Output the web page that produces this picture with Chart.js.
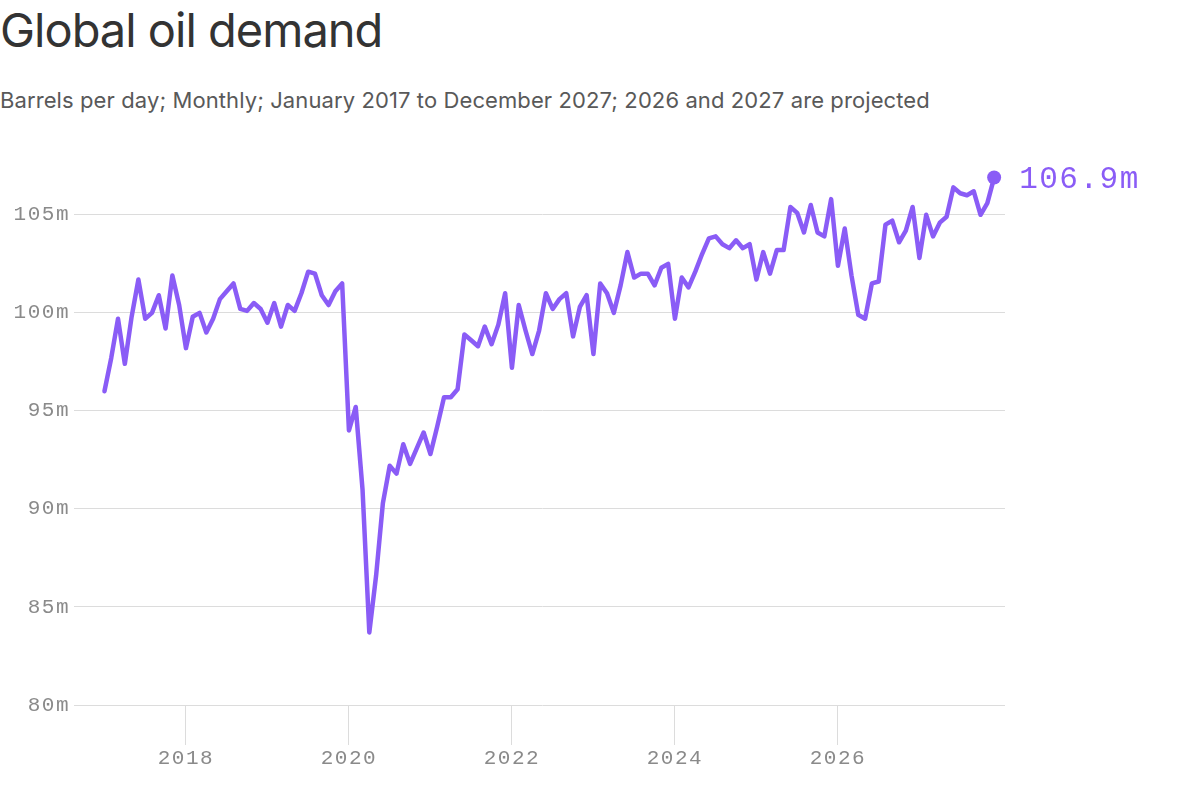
<!DOCTYPE html>
<html>
<head>
<meta charset="utf-8">
<script src="https://cdn.jsdelivr.net/npm/chart.js@4.4.1/dist/chart.umd.min.js"></script>
<style>
  html, body { margin: 0; padding: 0; background: #fff; }
  #wrap { position: relative; width: 1200px; height: 812px; overflow: hidden; }
  #title { position: absolute; left: 0; top: 5px; font: 400 47px Inter, sans-serif;
           letter-spacing: -1px; color: #333; line-height: 50px; white-space: nowrap; }
  #sub { position: absolute; left: 0; top: 86px; font: 400 22px Inter, sans-serif;
         letter-spacing: 0.1px; color: #595959; line-height: 28px; white-space: nowrap; }
  canvas { position: absolute; left: 0; top: 1px; }
</style>
</head>
<body>
<div id="wrap">
  <div id="title">Global oil demand</div>
  <div id="sub">Barrels per day; Monthly; January 2017 to December 2027; 2026 and 2027 are projected</div>
  <canvas id="chart" width="1200" height="811"></canvas>
</div>
<script>
// ─── DATOS (millones de barriles/día, mensual) ─────────────────
const years = [2017, 2018, 2019, 2020, 2021, 2022, 2023, 2024, 2025, 2026, 2027];
const d2017 = [96.0, 97.7, 99.7, 97.4, 99.8, 101.7, 99.7, 100.0, 100.9, 99.2, 101.9, 100.4];
const d2018 = [98.2, 99.8, 100.0, 99.0, 99.7, 100.7, 101.1, 101.5, 100.2, 100.1, 100.5, 100.2];
const d2019 = [99.5, 100.5, 99.3, 100.4, 100.1, 101.0, 102.1, 102.0, 100.9, 100.4, 101.1, 101.5];
const d2020 = [94.0, 95.2, 91.0, 83.7, 86.6, 90.3, 92.2, 91.8, 93.3, 92.3, 93.1, 93.9];
const d2021 = [92.8, 94.2, 95.7, 95.7, 96.1, 98.9, 98.6, 98.3, 99.3, 98.4, 99.4, 101.0];
const d2022 = [97.2, 100.4, 99.1, 97.9, 99.1, 101.0, 100.2, 100.7, 101.0, 98.8, 100.3, 100.9];
const d2023 = [97.9, 101.5, 101.0, 100.0, 101.4, 103.1, 101.8, 102.0, 102.0, 101.4, 102.3, 102.5];
const d2024 = [99.7, 101.8, 101.3, 102.1, 103.0, 103.8, 103.9, 103.5, 103.3, 103.7, 103.3, 103.5];
const d2025 = [101.7, 103.1, 102.0, 103.2, 103.2, 105.4, 105.1, 104.1, 105.5, 104.1, 103.9, 105.8];
const d2026 = [102.4, 104.3, 101.9, 99.9, 99.7, 101.5, 101.6, 104.5, 104.7, 103.6, 104.2, 105.4];
const d2027 = [102.8, 105.0, 103.9, 104.6, 104.9, 106.4, 106.1, 106.0, 106.2, 105.0, 105.6, 106.9];
const byYear = [d2017, d2018, d2019, d2020, d2021, d2022, d2023, d2024, d2025, d2026, d2027];

const yTicks = [80, 85, 90, 95, 100, 105];
const xTicks = [2018, 2020, 2022, 2024, 2026];
const endLabel = "106.9m";

// ─── ESTILO ────────────────────────────────────────────────────
const PURPLE = "#8a5cf6";
const GRID = "#dcdcdc";
const TICK = "#8a8a8a";
const MONO = "'Liberation Mono', 'DejaVu Sans Mono', monospace";

const points = [];
years.forEach((y, i) => byYear[i].forEach((v, m) => points.push({ x: y + m / 12, y: v })));
const last = points.length - 1;

// espaciado de letras en canvas (se pierde al redimensionar, por eso se repite)
const spacing = {
  id: "spacing",
  beforeUpdate(chart) { chart.ctx.letterSpacing = "1.5px"; },
  beforeDraw(chart) { chart.ctx.letterSpacing = "1.5px"; },
};

// etiqueta del último valor
const endValue = {
  id: "endValue",
  afterDatasetsDraw(chart) {
    const pt = chart.getDatasetMeta(0).data[last];
    const ctx = chart.ctx;
    ctx.save();
    ctx.letterSpacing = "1.5px";
    ctx.font = "31px " + MONO;
    ctx.fillStyle = PURPLE;
    ctx.textBaseline = "middle";
    ctx.textAlign = "left";
    ctx.fillText(endLabel, pt.x + 25, pt.y + 2);
    ctx.restore();
  },
};

new Chart(document.getElementById("chart"), {
  type: "line",
  data: {
    datasets: [{
      data: points,
      borderColor: PURPLE,
      borderWidth: 4.5,
      borderJoinStyle: "round",
      borderCapStyle: "round",
      tension: 0,
      pointRadius: ctx => (ctx.dataIndex === last ? 7 : 0),
      pointBackgroundColor: PURPLE,
      pointBorderWidth: 0,
    }],
  },
  options: {
    responsive: false,
    animation: false,
    layout: { padding: { top: 155, right: 195, left: 0, bottom: 0 } },
    plugins: { legend: { display: false }, tooltip: { enabled: false } },
    scales: {
      x: {
        type: "linear",
        min: 2016.7,
        max: 2028.05,
        afterBuildTicks: s => { s.ticks = xTicks.map(v => ({ value: v })); },
        afterFit: s => { s.height = 107; },
        border: { display: false },
        grid: { drawOnChartArea: false, color: GRID, tickLength: 40 },
        ticks: { color: TICK, font: { family: MONO, size: 21 }, padding: 1,
                  callback: v => String(v) },
      },
      y: {
        min: 80,
        max: 108,
        afterBuildTicks: s => { s.ticks = yTicks.map(v => ({ value: v })); },
        afterFit: s => { s.width = 80; },
        border: { display: false },
        grid: { color: GRID, tickLength: 6 },
        ticks: { color: TICK, font: { family: MONO, size: 21 }, padding: 4,
                  callback: v => v + "m" },
      },
    },
  },
  plugins: [spacing, endValue],
});
</script>
</body>
</html>
